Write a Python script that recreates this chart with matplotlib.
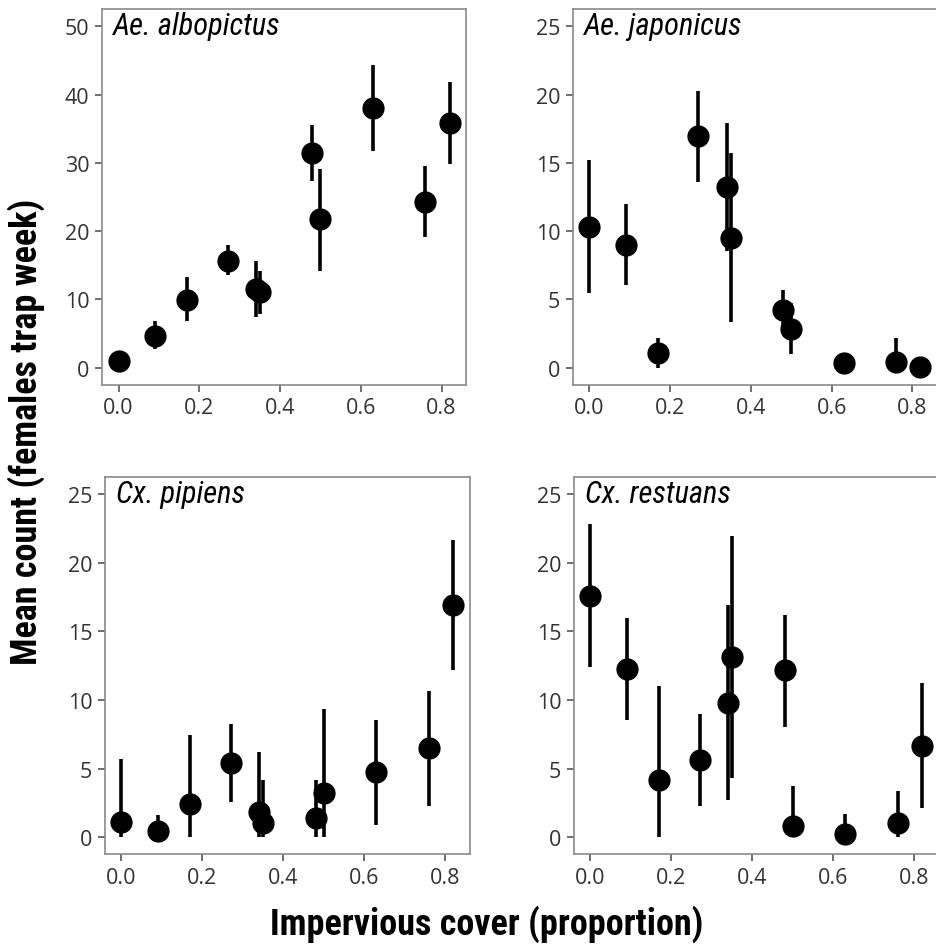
import matplotlib
matplotlib.use("Agg")
import matplotlib.pyplot as plt
import numpy as np

# impervious cover of the sites (same for every species)
cover = [0.0, 0.09, 0.17, 0.27, 0.34, 0.35, 0.48, 0.50, 0.63, 0.76, 0.82]

species = ["Ae. albopictus", "Ae. japonicus", "Cx. pipiens", "Cx. restuans"]

# mean count and error bar ends per species
albo_mean = [1.0, 4.6, 9.9, 15.6, 11.5, 11.0, 31.4, 21.7, 38.0, 24.3, 35.8]
albo_low = [0.6, 2.7, 6.8, 13.5, 7.4, 7.8, 27.4, 14.1, 31.7, 19.1, 29.9]
albo_high = [1.4, 6.8, 13.2, 17.9, 15.6, 14.1, 35.5, 29.1, 44.4, 29.5, 41.8]

japo_mean = [10.3, 9.0, 1.1, 17.0, 13.2, 9.5, 4.2, 2.8, 0.3, 0.4, 0.05]
japo_low = [5.45, 6.06, 0.0, 13.6, 8.55, 3.34, 2.8, 0.97, 0.0, 0.0, 0.0]
japo_high = [15.2, 12.0, 2.13, 20.3, 17.9, 15.7, 5.7, 4.72, 1.02, 2.13, 0.2]

pip_mean = [1.09, 0.41, 2.42, 5.37, 1.82, 1.04, 1.38, 3.22, 4.72, 6.49, 16.94]
pip_low = [0.0, 0.0, 0.0, 2.59, 0.0, 0.0, 0.0, 0.0, 0.9, 2.3, 12.2]
pip_high = [5.69, 1.62, 7.43, 8.23, 6.22, 4.19, 4.19, 9.37, 8.52, 10.65, 21.66]

rest_mean = [17.6, 12.27, 4.19, 5.61, 9.8, 13.14, 12.15, 0.8, 0.24, 1.04, 6.66]
rest_low = [12.4, 8.52, 0.0, 2.25, 2.73, 4.28, 8.06, 0.0, 0.0, 0.0, 2.1]
rest_high = [22.8, 15.97, 11.0, 8.95, 16.9, 21.95, 16.2, 3.7, 1.69, 3.39, 11.25]

means = [albo_mean, japo_mean, pip_mean, rest_mean]
lows = [albo_low, japo_low, pip_low, rest_low]
highs = [albo_high, japo_high, pip_high, rest_high]
y_tops = [50, 25, 25, 25]
y_steps = [10, 5, 5, 5]

narrow = ["Roboto Condensed", "DejaVu Sans"]
tick_font = ["Open Sans", "DejaVu Sans"]

fig = plt.figure(figsize=(9.36, 9.45), dpi=100)

# axes boxes in figure fractions: left, bottom, width, height
boxes = [
    [0.109, 0.592, 0.389, 0.397],
    [0.612, 0.592, 0.389, 0.397],
    [0.112, 0.095, 0.390, 0.399],
    [0.613, 0.095, 0.390, 0.399],
]

for i in range(4):
    ax = fig.add_axes(boxes[i])
    m = np.array(means[i])
    lo = m - np.array(lows[i])
    hi = np.array(highs[i]) - m
    ax.errorbar(cover, m, yerr=[lo, hi], fmt="o", color="black",
                markersize=15, elinewidth=2.6, capsize=0)

    top = y_tops[i]
    ax.set_xlim(-0.041, 0.861)
    ax.set_ylim(-0.05 * top, 1.05 * top)
    ax.set_xticks([0.0, 0.2, 0.4, 0.6, 0.8])
    ax.set_xticklabels(["0.0", "0.2", "0.4", "0.6", "0.8"])
    ax.set_yticks(np.arange(0, top + 1, y_steps[i]))

    for side in ax.spines.values():
        side.set_color("#8a8a8a")
        side.set_linewidth(1.2)
    ax.tick_params(direction="out", length=5, width=1.2, color="#555555",
                   labelcolor="#333333", labelsize=15.5, pad=4)
    for lab in ax.get_xticklabels() + ax.get_yticklabels():
        lab.set_family(tick_font)

    ax.text(0.03, 0.995, species[i], transform=ax.transAxes, ha="left",
            va="top", fontsize=22, style="italic", family=narrow)

fig.text(0.028, 0.543, "Mean count (females trap week)", rotation=90,
         ha="center", va="center", fontsize=26, fontweight="bold",
         family=narrow)
fig.text(0.52, 0.022, "Impervious cover (proportion)", ha="center",
         va="center", fontsize=26, fontweight="bold", family=narrow)

fig.savefig("out.png", dpi=100)
